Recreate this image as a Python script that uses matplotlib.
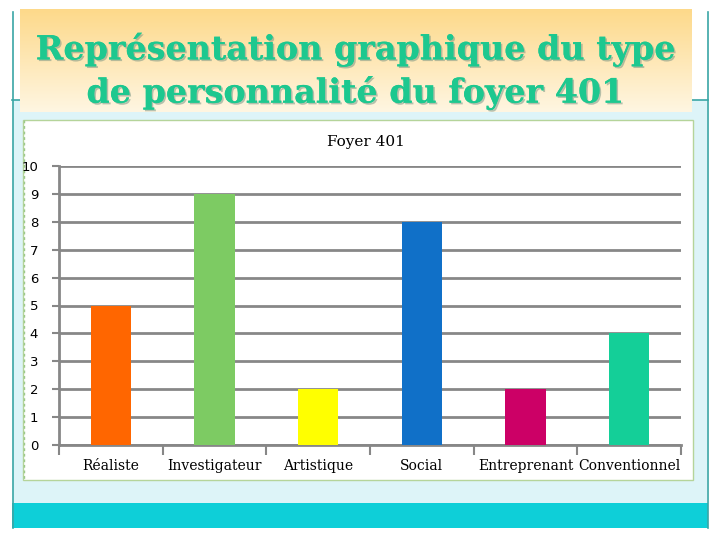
import numpy as np
import matplotlib
matplotlib.use('Agg')
import matplotlib.pyplot as plt
from matplotlib.patches import Rectangle
import matplotlib.patheffects as pe

categories = ['Réaliste', 'Investigateur', 'Artistique', 'Social', 'Entreprenant', 'Conventionnel']
values = [5, 9, 2, 8, 2, 4]
bar_colors = ['#FF6600', '#7DCB63', '#FFFF00', '#1070C8', '#CC0066', '#14CF98']
y_ticks = list(range(0, 11))

W, H = 720, 540
fig = plt.figure(figsize=(7.2, 5.4), dpi=100)
fig.patch.set_facecolor('white')


def box(x0, y0, x1, y1):
    # pixel box (top-left origin) -> figure fraction
    return (x0 / W, 1 - y1 / H, (x1 - x0) / W, (y1 - y0) / H)


# slide background
fig.patches.append(Rectangle(box(13, 100, 707, 503)[:2], *box(13, 100, 707, 503)[2:],
                             transform=fig.transFigure, facecolor='#DDF4F8', edgecolor='none', zorder=0))
fig.patches.append(Rectangle(box(12, 503, 708, 528)[:2], *box(12, 503, 708, 528)[2:],
                             transform=fig.transFigure, facecolor='#0ECFD8', edgecolor='none', zorder=1))
for x in (12.5, 707.5):
    fig.add_artist(plt.Line2D([x / W, x / W], [1 - 12 / H, 1 - 528 / H], transform=fig.transFigure,
                              color='#3AA6A6', lw=1.2, zorder=2))
fig.add_artist(plt.Line2D([12 / W, 708 / W], [1 - 100 / H, 1 - 100 / H], transform=fig.transFigure,
                          color='#3AA6A6', lw=1.2, zorder=2))

# title box with gradient
tax = fig.add_axes(box(20, 9, 692, 112), zorder=3)
grad = np.linspace(0, 1, 256).reshape(-1, 1)
cmap = matplotlib.colors.LinearSegmentedColormap.from_list('g', ['#FDD98A', '#FFF6E2'])
tax.imshow(grad, aspect='auto', cmap=cmap, extent=[0, 1, 0, 1], origin='upper')
tax.set_axis_off()
shadow = [pe.withSimplePatchShadow(offset=(1.2, -1.2), shadow_rgbFace='#6E8F80', alpha=0.5), pe.Normal()]
tax.text(0.5, 0.61, 'Représentation graphique du type', ha='center', va='center', fontsize=24,
         family='DejaVu Serif', weight='bold', color='#1DC88F', transform=tax.transAxes, path_effects=shadow)
tax.text(0.5, 0.19, 'de personnalité du foyer 401', ha='center', va='center', fontsize=24,
         family='DejaVu Serif', weight='bold', color='#1DC88F', transform=tax.transAxes, path_effects=shadow)

# chart area
fig.patches.append(Rectangle(box(23, 120, 693, 480)[:2], *box(23, 120, 693, 480)[2:],
                             transform=fig.transFigure, facecolor='white', edgecolor='#B5D49A', lw=1, zorder=2))
fig.add_artist(plt.Line2D([23.5 / W, 23.5 / W], [1 - 120 / H, 1 - 480 / H], transform=fig.transFigure,
                          color='#9CC98A', lw=1, ls=(0, (2, 2)), zorder=3))
fig.text(366 / W, 1 - 142 / H, 'Foyer 401', ha='center', va='center', fontsize=11,
         family='DejaVu Serif', color='black', zorder=4)

ax = fig.add_axes(box(59, 166, 681, 445), zorder=4)
ax.patch.set_alpha(0)
x = np.arange(len(categories))
ax.bar(x, values, width=0.39, color=bar_colors, zorder=3)
ax.set_xlim(-0.5, len(categories) - 0.5)
ax.set_ylim(0, 10)
ax.set_yticks(y_ticks)
ax.set_yticklabels([str(v) for v in y_ticks], fontsize=9.5, family='DejaVu Sans')
ax.yaxis.grid(True, color='#878787', lw=2, zorder=1)
ax.set_xticks(np.arange(-0.5, len(categories), 1))
ax.set_xticklabels([])
ax.set_xticks(x, minor=True)
ax.set_xticklabels(categories, minor=True, fontsize=10, family='DejaVu Serif')
ax.tick_params(axis='x', which='major', length=7, width=1.5, color='#878787', direction='out')
ax.tick_params(axis='x', which='minor', length=0, pad=10)
ax.tick_params(axis='y', length=5, width=1.5, color='#878787', pad=10)
for s in ('top', 'right'):
    ax.spines[s].set_visible(False)
ax.spines['left'].set_color('#878787')
ax.spines['left'].set_linewidth(2)
ax.spines['bottom'].set_color('#878787')
ax.spines['bottom'].set_linewidth(2)

fig.savefig('out.png', dpi=100)
